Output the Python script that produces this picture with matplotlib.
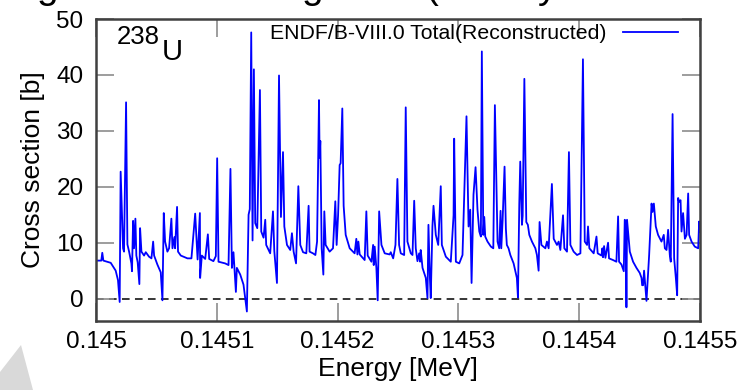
import matplotlib
matplotlib.use("Agg")
import matplotlib.pyplot as plt
from matplotlib.patches import Polygon
import numpy as np

plt.rcParams['font.family'] = ['Liberation Sans', 'DejaVu Sans']

# Energy offsets from 145000 eV (in eV) and total cross section (b)
E0_eV = 145000.0
energy_offset_eV = [
    0, 4.4, 5.2, 6.1, 12.2, 16.3, 18.2, 19.6, 20.4, 22.4, 23.2, 24.9, 26.0, 27.4,
    29.3, 29.8, 30.7, 31.5, 32.6, 33.4, 34.5, 35.9, 36.5, 37.6, 39.8, 41.2, 43.9,
    45.9, 47.3, 48.1, 50.8, 53.6, 55.0, 56.1, 57.2, 59.1, 60.5, 62.4, 63.3, 64.9,
    65.5, 67.1, 67.9, 70.2, 75.7, 79.0, 82.1, 84.1, 86.0, 86.2, 87.6, 90.4, 92.6,
    93.7, 97.2, 99.2, 100.3, 101.4, 106.9, 109.7, 111.3, 112.5, 113.8, 115.8,
    116.6, 119.4, 122.1, 124.9, 126.3, 127.3, 128.5, 129.6, 130.7, 131.8, 133.5,
    135.7, 136.8, 138.7, 140.1, 140.9, 144.2, 146.5, 147.6, 149.8, 151.5, 153.1,
    154.8, 155.9, 158.1, 160.8, 162.2, 163.6, 165.6, 167.5, 169.1, 171.4, 174.1,
    176.0, 176.8, 179.6, 181.6, 183.0, 184.6, 185.1, 185.7, 186.8, 188.2, 189.0,
    190.1, 193.4, 196.2, 198.1, 199.2, 200.4, 201.7, 202.5, 203.9, 205.0, 206.7,
    210.0, 214.1, 215.5, 216.4, 217.2, 218.3, 221.1, 222.4, 223.8, 224.9, 228.0,
    229.4, 229.9, 230.7, 232.1, 233.2, 234.4, 236.3, 239.0, 243.1, 244.0, 246.0,
    247.9, 249.5, 250.9, 252.3, 255.1, 256.4, 257.8, 260.6, 262.0, 263.4, 264.7,
    266.1, 267.5, 268.3, 268.8, 270.3, 273.0, 274.4, 275.2, 276.3, 277.1, 278.5,
    279.4, 281.3, 283.3, 285.4, 286.3, 289.6, 293.7, 296.0, 296.5, 297.9, 300.7,
    303.4, 306.7, 308.4, 309.8, 310.9, 312.5, 314.2, 315.8, 317.3, 318.6, 319.4,
    320.6, 321.4, 322.2, 324.1, 326.9, 328.9, 330.2, 332.4, 333.8, 334.9, 335.5,
    336.6, 338.2, 339.3, 340.1, 341.5, 343.0, 345.7, 348.4, 349.3, 350.4, 351.2,
    352.6, 353.2, 354.6, 356.2, 357.5, 358.7, 360.9, 363.7, 365.0, 366.4, 367.2,
    368.7, 372.0, 373.3, 374.7, 377.4, 378.9, 381.6, 383.0, 384.4, 386.6, 387.7,
    389.9, 391.5, 392.7, 395.4, 398.2, 401.0, 403.1, 404.6, 406.5, 407.3, 408.4,
    412.0, 414.3, 415.3, 417.6, 418.4, 419.2, 419.7, 420.6, 421.7, 423.9, 424.7,
    428.0, 430.8, 432.2, 433.0, 435.0, 436.9, 437.7, 438.5, 439.1, 439.6, 441.9,
    444.6, 447.4, 450.1, 451.6, 452.1, 452.9, 453.7, 455.7, 457.9, 459.9, 460.7,
    461.8, 463.4, 465.3, 468.1, 470.0, 470.9, 472.3, 473.6, 475.0, 475.8, 477.3,
    478.6, 480.0, 481.1, 481.9, 482.7, 483.9, 484.7, 486.0, 487.5, 488.9, 490.2,
    491.0, 493.0, 495.7, 498.5, 499.3, 500.0,
]
cross_section_b = [
    6.8, 6.8, 8.2, 6.8, 6.4, 5.0, 3.3, -0.6, 22.7, 9.0, 8.4, 35.1, 9.7, 8.4,
    6.3, 4.9, 13.9, 9.0, 14.3, 7.7, 6.5, 2.6, 12.6, 8.4, 7.7, 8.3, 7.5,
    7.2, 10.2, 7.7, 6.1, 4.7, -0.3, 15.3, 10.2, 8.4, 9.0, 14.3, 9.0, 11.0,
    9.0, 16.4, 8.4, 7.7, 7.2, 7.2, 15.2, 7.0, 15.3, 3.7, 7.7, 7.1, 11.5,
    7.1, 6.7, 7.6, 25.1, 6.6, 6.3, 6.0, 23.2, 5.5, 8.3, 1.2,
    5.5, 4.3, 2.5, -2.3, 15.0, 16.0, 47.6, 10.4, 41.0, 13.5, 12.6,
    37.3, 12.0, 10.9, 14.1, 9.6, 8.1, 15.6, 8.5, 2.8, 39.9, 14.6,
    26.2, 12.9, 9.6, 8.7, 11.7, 8.4, 6.3, 20.1, 9.6, 8.3, 8.1,
    16.6, 8.4, 8.1, 7.8, 10.2, 35.5, 25.2, 28.2, 9.0, 4.3, 15.6,
    9.6, 8.4, 9.0, 17.4, 9.6, 14.9, 23.9, 24.2, 34.0, 16.6, 11.4,
    9.0, 8.1, 10.7, 7.9, 10.2, 7.9, 7.2, 6.9, 15.6, 7.7, 6.6,
    9.6, 6.0, 9.3, 5.5, -0.3, 15.6, 9.6, 8.1, 7.9, 8.3, 7.2,
    9.6, 21.4, 9.6, 8.1, 7.8, 34.2, 10.2, 8.1, 7.8, 17.5, 9.0,
    6.7, 8.1, 6.6, 8.7, 5.5, 3.7, 0.1, 13.2, 4.3, 0.1, 12.9,
    16.6, 11.4, 9.6, 20.1, 9.6, 7.5, 6.6, 14.9, 28.6, 6.6, 6.3,
    7.8, 32.6, 12.9, 15.9, 2.8, 18.6, 23.5, 15.9, 12.0, 11.1, 44.2,
    11.4, 14.6, 11.1, 10.2, 9.3, 9.0, 34.6, 10.2, 9.0, 15.7, 9.0,
    14.0, 23.6, 12.5, 9.6, 9.0, 7.8, 6.3, 3.7, 0.2, 16.9, 24.5,
    13.2, 14.8, 39.3, 13.7, 13.2, 11.4, 10.2, 9.0, 7.8, 5.0, 13.7,
    9.6, 9.0, 10.2, 9.0, 20.5, 10.7, 9.6, 10.2, 8.7, 14.9, 9.0,
    8.4, 26.2, 9.6, 8.4, 7.8, 8.1, 42.8, 10.2, 9.6, 12.9, 9.0,
    8.1, 11.1, 8.1, 7.8, 7.7, 9.0, 7.4, 9.4, 7.3, 10.0, 7.2,
    6.9, 6.6, 14.7, 6.6, 6.1, 4.9, 14.1, 13.8, -1.55, 14.1, 8.4,
    6.6, 5.5, 4.6, 3.7, 2.4, 2.4, 5.0, -0.4, 7.8, 17.0, 15.5,
    17.0, 12.9, 11.4, 10.2, 11.4, 9.0, 8.7, 12.3, 7.8, 6.6, 33.0,
    7.2, 3.7, 0.6, 18.0, 17.3, 17.6, 12.0, 15.3, 10.7, 11.4, 18.8,
    11.4, 10.2, 9.3, 9.0, 13.8, 12.0,
]

x_ticks_MeV = [0.145, 0.1451, 0.1452, 0.1453, 0.1454, 0.1455]
x_tick_labels = ["0.145", "0.1451", "0.1452", "0.1453", "0.1454", "0.1455"]
y_ticks = [0, 10, 20, 30, 40, 50]
legend_label = "ENDF/B-VIII.0 Total(Reconstructed)"

energy_MeV = (E0_eV + np.array(energy_offset_eV)) / 1e6
xs = np.array(cross_section_b)

W, H = 750, 390
fig = plt.figure(figsize=(7.5, 3.9), dpi=100)

# decorative slide shape bottom-left
fig.patches.append(Polygon([(0, 0), (0, 18 / H), (21 / W, 45 / H), (33 / W, 0)],
                           closed=True, transform=fig.transFigure,
                           facecolor='#d9d9d9', edgecolor='none', zorder=0))

# cropped slide title (only descenders visible)
for ch, px in [("g", 47), ("g", 312), ("(", 432), ("y", 548)]:
    fig.text(px / W, 1 + 2 / H, ch, fontsize=28, ha='center', va='baseline',
             color='black')

ax = fig.add_axes([96 / W, 1 - 321 / H, (700 - 96) / W, (321 - 19) / H])

ax.axhline(0, color='black', lw=1.1, ls=(0, (5, 3.5)), zorder=1)
ax.plot(energy_MeV, xs, color='#0000ff', lw=1.3, label=legend_label, zorder=2)

ax.set_xlim(0.145, 0.1455)
ax.set_ylim(-4, 50)
ax.set_xticks(x_ticks_MeV)
ax.set_xticklabels(x_tick_labels)
ax.set_yticks(y_ticks)
ax.set_yticklabels([str(v) for v in y_ticks])

ax.tick_params(direction='in', length=13, width=1.2, color='#8c8c8c',
               top=True, right=True, labelsize=17.5, labelcolor='black')
ax.tick_params(axis='x', pad=7)
ax.tick_params(axis='y', pad=9)
for s in ax.spines.values():
    s.set_color('#404040')
    s.set_linewidth(1.8)

ax.set_xlabel("Energy [MeV]", fontsize=19, labelpad=3)
ax.set_ylabel("Cross section [b]", fontsize=19, labelpad=8)

leg = ax.legend(loc='upper right', bbox_to_anchor=(678 / W, 1 - 24 / H),
                bbox_transform=fig.transFigure, frameon=False, markerfirst=False,
                fontsize=15.3, handlelength=2.6, handletextpad=0.75,
                borderpad=0, borderaxespad=0)

fig.text(117 / W, 1 - 44 / H, "238", fontsize=18.5, ha='left', va='baseline')
fig.text(162 / W, 1 - 60 / H, "U", fontsize=21, ha='left', va='baseline')

fig.savefig("out.png", dpi=100)
